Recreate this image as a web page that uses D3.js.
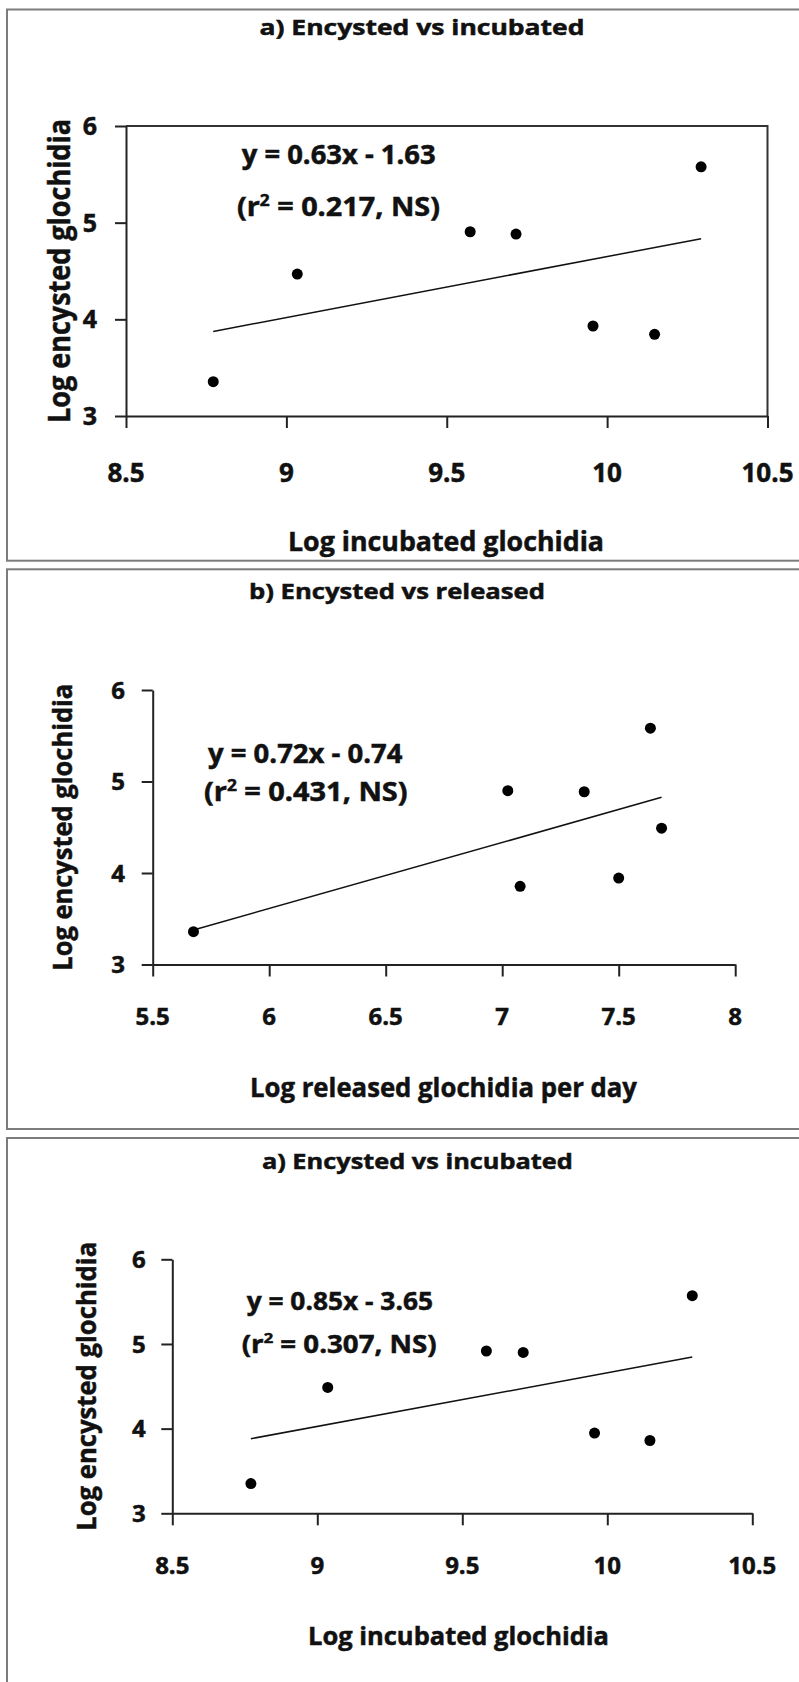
<!DOCTYPE html>
<html>
<head>
<meta charset="utf-8">
<script src="https://cdn.jsdelivr.net/npm/d3@7"></script>
<style>
  body { margin: 0; background: #fff; }
  svg text { font-family: "Open Sans", "DejaVu Sans", sans-serif; font-weight: 700; fill: #111;
             stroke: #111; stroke-width: 0.5px; }
</style>
</head>
<body>
<svg id="chart" width="799" height="1682"></svg>
<script>
// ---- data ----
var titles  = ["a) Encysted vs incubated", "b) Encysted vs released", "a) Encysted vs incubated"];
var xTitles = ["Log incubated glochidia", "Log released glochidia per day", "Log incubated glochidia"];
var yTitle  = "Log encysted glochidia";
var equations = ["y = 0.63x - 1.63", "y = 0.72x - 0.74", "y = 0.85x - 3.65"];
var rSquared  = ["0.217", "0.431", "0.307"];

var xTicksIncubated = [8.5, 9, 9.5, 10, 10.5];
var xTicksReleased  = [5.5, 6, 6.5, 7, 7.5, 8];
var yTicks = [3, 4, 5, 6];

var incubatedA = [8.772, 9.034, 9.573, 9.716, 9.956, 10.148, 10.293];
var encystedA  = [3.355, 4.468, 4.906, 4.882, 3.931, 3.845, 5.578];

var releasedB  = [5.675, 7.024, 7.077, 7.352, 7.500, 7.636, 7.684];
var encystedB  = [3.359, 4.900, 3.854, 4.888, 3.944, 5.583, 4.490];

var incubatedC = [8.771, 9.036, 9.583, 9.710, 9.956, 10.147, 10.293];
var encystedC  = [3.351, 4.487, 4.917, 4.900, 3.947, 3.860, 5.570];

// ---- layout of the three boxes (pixel positions only) ----
var panels = [
  { xs: incubatedA, ys: encystedA, xTicks: xTicksIncubated, k: 0,
    boxTop: 9.5, boxBottom: 560.7, left: 126, right: 767.5, top: 126, bottom: 416, frame: true,
    titleX: 422, titleY: 35, titleLen: 325, titleSize: 22,
    eqX: [241.7, 237], eqY: [163.5, 216], eqLen: [194, 203], eqSize: 26,
    yLabRight: 97, xLabY: 481.7, tickSize: 26, yTickSize: 25,
    xLabX: 446, xLabBase: 551, xLabLen: 316, xLabSize: 26,
    yLabX: 70, yLabLen: 304, yLabSize: 30 },
  { xs: releasedB, ys: encystedB, xTicks: xTicksReleased, k: 1,
    boxTop: 569.3, boxBottom: 1129, left: 152.7, right: 735.2, top: 690, bottom: 964.5, frame: false,
    titleX: 397, titleY: 599, titleLen: 296, titleSize: 22,
    eqX: [208, 204], eqY: [762.7, 801], eqLen: [194.5, 203.6], eqSize: 26,
    yLabRight: 125, xLabY: 1025, tickSize: 24, yTickSize: 24,
    xLabX: 443.5, xLabBase: 1096.7, xLabLen: 387, xLabSize: 27,
    yLabX: 72, yLabLen: 287, yLabSize: 27 },
  { xs: incubatedC, ys: encystedC, xTicks: xTicksIncubated, k: 2,
    boxTop: 1138, boxBottom: 1700, left: 172.3, right: 752.3, top: 1259.3, bottom: 1513.3, frame: false,
    titleX: 417.4, titleY: 1169, titleLen: 311, titleSize: 22,
    eqX: [246.7, 241.7], eqY: [1310, 1352.7], eqLen: [186.3, 195], eqSize: 25,
    yLabRight: 145.7, xLabY: 1574, tickSize: 24, yTickSize: 24,
    xLabX: 458.5, xLabBase: 1645, xLabLen: 301, xLabSize: 25,
    yLabX: 96, yLabLen: 289, yLabSize: 27 }
];

var svg = d3.select("#chart");

function fit(xs, ys){
  var mx = d3.mean(xs), my = d3.mean(ys), sxy = 0, sxx = 0;
  xs.forEach(function(v, i){ sxy += (v - mx) * (ys[i] - my); sxx += (v - mx) * (v - mx); });
  var b = sxy / sxx;
  return { slope: b, icpt: my - b * mx };
}

function drawPanel(p){
  var g = svg.append("g");
  var x = d3.scaleLinear().domain(d3.extent(p.xTicks)).range([p.left, p.right]);
  var y = d3.scaleLinear().domain(d3.extent(yTicks)).range([p.bottom, p.top]);

  // outer box, running off the right edge like the original
  g.append("rect")
    .attr("x", 7).attr("y", p.boxTop)
    .attr("width", 830).attr("height", p.boxBottom - p.boxTop)
    .attr("fill", "none").attr("stroke", "#7c7c7c").attr("stroke-width", 2);

  if (p.frame){
    g.append("path")
      .attr("d", "M" + p.left + "," + p.top + "H" + p.right + "V" + p.bottom)
      .attr("fill", "none").attr("stroke", "#333").attr("stroke-width", 2);
  }

  var xAxis = d3.axisBottom(x).tickValues(p.xTicks).tickSize(12).tickSizeOuter(0).tickFormat("");
  var yAxis = d3.axisLeft(y).tickValues(yTicks).tickSize(11).tickSizeOuter(0).tickFormat("");

  [g.append("g").attr("transform", "translate(0," + p.bottom + ")").call(xAxis),
   g.append("g").attr("transform", "translate(" + p.left + ",0)").call(yAxis)]
    .forEach(function(a){
      a.selectAll("path, line").attr("stroke", "#222").attr("stroke-width", 2);
    });

  // tick labels
  g.selectAll("text.xt").data(p.xTicks).enter().append("text")
    .attr("class", "xt")
    .attr("x", function(d){ return x(d); })
    .attr("y", p.xLabY)
    .attr("text-anchor", "middle")
    .style("font-size", p.tickSize + "px")
    .text(function(d){ return d; });

  g.selectAll("text.yt").data(yTicks).enter().append("text")
    .attr("class", "yt")
    .attr("x", p.yLabRight)
    .attr("y", function(d){ return y(d); })
    .attr("dy", "0.36em")
    .attr("text-anchor", "end")
    .style("font-size", p.yTickSize + "px")
    .text(function(d){ return d; });

  // titles
  g.append("text")
    .attr("x", p.titleX).attr("y", p.titleY)
    .attr("text-anchor", "middle")
    .attr("textLength", p.titleLen).attr("lengthAdjust", "spacingAndGlyphs")
    .style("font-size", p.titleSize + "px")
    .text(titles[p.k]);

  g.append("text")
    .attr("x", p.xLabX).attr("y", p.xLabBase)
    .attr("text-anchor", "middle")
    .attr("textLength", p.xLabLen).attr("lengthAdjust", "spacingAndGlyphs")
    .style("font-size", p.xLabSize + "px")
    .text(xTitles[p.k]);

  g.append("text")
    .attr("transform", "translate(" + p.yLabX + "," + (p.top + p.bottom) / 2 + ") rotate(-90)")
    .attr("text-anchor", "middle")
    .attr("textLength", p.yLabLen).attr("lengthAdjust", "spacingAndGlyphs")
    .style("font-size", p.yLabSize + "px")
    .text(yTitle);

  // regression equation
  g.append("text")
    .attr("x", p.eqX[0]).attr("y", p.eqY[0])
    .attr("textLength", p.eqLen[0]).attr("lengthAdjust", "spacingAndGlyphs")
    .style("font-size", p.eqSize + "px")
    .text(equations[p.k]);

  var r2 = g.append("text")
    .attr("x", p.eqX[1]).attr("y", p.eqY[1])
    .attr("textLength", p.eqLen[1]).attr("lengthAdjust", "spacingAndGlyphs")
    .style("font-size", p.eqSize + "px");
  r2.append("tspan").text("(r");
  r2.append("tspan").attr("dy", -10).style("font-size", (p.eqSize * 0.6) + "px").text("2");
  r2.append("tspan").attr("dy", 10).text(" = " + rSquared[p.k] + ", NS)");

  // trend line over the data range
  var f = fit(p.xs, p.ys);
  var ends = d3.extent(p.xs);
  g.append("line")
    .attr("x1", x(ends[0])).attr("y1", y(f.slope * ends[0] + f.icpt))
    .attr("x2", x(ends[1])).attr("y2", y(f.slope * ends[1] + f.icpt))
    .attr("stroke", "#111").attr("stroke-width", 1.5);

  // points
  g.selectAll("circle").data(p.xs).enter().append("circle")
    .attr("cx", function(d){ return x(d); })
    .attr("cy", function(d, i){ return y(p.ys[i]); })
    .attr("r", 5.5)
    .attr("fill", "#000");
}

panels.forEach(drawPanel);
</script>
</body>
</html>
